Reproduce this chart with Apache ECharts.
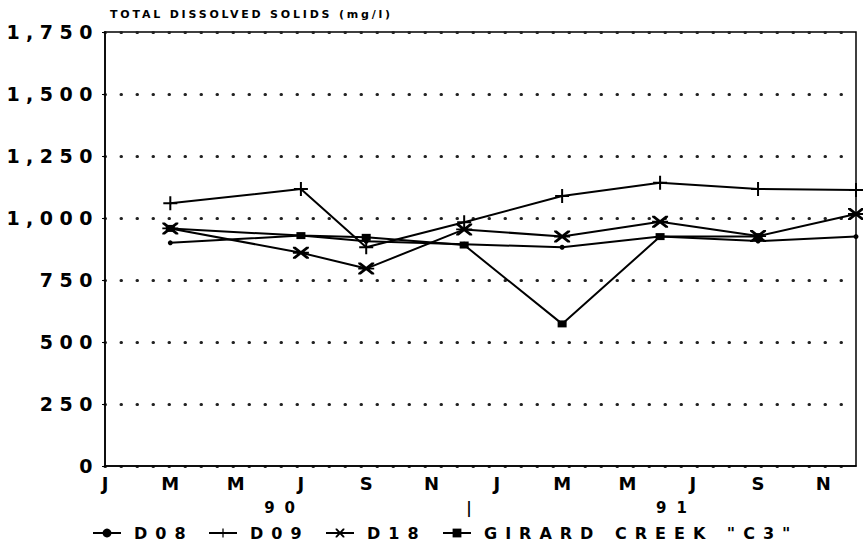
<!DOCTYPE html>
<html>
<head>
<meta charset="utf-8">
<script src="https://cdn.jsdelivr.net/npm/echarts@6/dist/echarts.min.js"></script>
<style>
  html, body { margin: 0; background: #fff; }
  #chart { width: 863px; height: 545px; }
  /* the original lettering is a very wide face, spread the glyphs out */
  #chart text[style*="11px"] { letter-spacing: 2.8px; }
  #chart text[style*="19px"] { letter-spacing: 6.5px; }
  #chart text[style*="16px"] { letter-spacing: 8px; }
  #chart text[style*="15px"] { letter-spacing: 10px; }
</style>
</head>
<body>
<div id="chart"></div>
<script>
    // months counted from Jan 1990 (0) to Dec 1991 (23)
    var monthLetters = ['J', 'M', 'M', 'J', 'S', 'N', 'J', 'M', 'M', 'J', 'S', 'N'];
    var yearLabels = ['90', '|', '91'];
    var yearPositions = [5.5, 11.3, 17.5];
    var sampleMonths = [2, 6, 8, 11, 14, 17, 20, 23];

    var d08 = [900, 929, 906, 894, 882, 925, 907, 925];
    var d09 = [1059, 1117, 882, 983, 1089, 1142, 1117, 1113];
    var d18 = [958, 860, 796, 954, 925, 985, 927, 1016];
    var c3  = [958, 929, 922, 891, 573, 925, 925];

    var plusIcon = 'path://M6,0H8V6H14V8H8V14H6V8H0V6H6Z';
    var starIcon = 'path://M0,0H2.6L16,11.4V13H13.4L0,1.6Z M13.4,0H16V1.6L2.6,13H0V11.4Z M0,5.5H16V7.5H0Z';

    function pairs(values) {
        var out = [];
        for (var i = 0; i < values.length; i++) {
            out.push([sampleMonths[i], values[i]]);
        }
        return out;
    }

    function lineSeries(name, values, symbol, size) {
        return {
            name: name,
            type: 'line',
            data: pairs(values),
            symbol: symbol,
            symbolSize: size,
            clip: false,
            lineStyle: { color: '#000', width: 2 },
            itemStyle: { color: '#000' }
        };
    }

    function legendAt(name, left) {
        return {
            data: [name],
            left: left,
            top: 520,
            itemWidth: 28,
            itemHeight: 11,
            textStyle: { fontSize: 16, fontWeight: 'bold', color: '#000', padding: [0, 0, 0, 8] }
        };
    }

    var chart = echarts.init(document.getElementById('chart'), null, { renderer: 'svg' });

    var option = {
        animation: false,
        backgroundColor: '#fff',
        textStyle: { fontFamily: 'DejaVu Sans', color: '#000' },
        title: {
            text: 'TOTAL DISSOLVED SOLIDS (mg/l)',
            left: 105,
            top: 4,
            textStyle: { fontSize: 11, fontWeight: 'bold', color: '#000' }
        },
        legend: [
            legendAt('D08', 87),
            legendAt('D09', 203),
            legendAt('D18', 320),
            legendAt('GIRARD CREEK "C3"', 437)
        ],
        grid: {
            left: 105,
            right: 7,
            top: 32,
            bottom: 79,
            show: true,
            borderColor: '#000',
            borderWidth: 1.5
        },
        xAxis: [
            {
                type: 'value',
                min: 0,
                max: 23,
                interval: 2,
                axisLine: { lineStyle: { color: '#000', width: 1.5 } },
                axisTick: { show: false },
                splitLine: { show: false },
                axisLabel: {
                    color: '#000',
                    fontSize: 18,
                    fontWeight: 'bold',
                    margin: 8,
                    showMaxLabel: false,
                    formatter: function (v) {
                        return v % 2 === 0 ? monthLetters[v / 2] : '';
                    }
                }
            },
            {
                type: 'value',
                min: 0,
                max: 23,
                position: 'bottom',
                offset: 26,
                axisLine: { show: false },
                axisTick: { show: false },
                splitLine: { show: false },
                axisLabel: {
                    color: '#000',
                    fontSize: 15,
                    fontWeight: 'bold',
                    margin: 8,
                    customValues: yearPositions,
                    formatter: function (v) {
                        return yearLabels[yearPositions.indexOf(v)];
                    }
                }
            }
        ],
        yAxis: {
            type: 'value',
            min: 0,
            max: 1750,
            interval: 250,
            axisLine: { show: true, lineStyle: { color: '#000', width: 1.5 } },
            axisTick: { show: true, length: 3, lineStyle: { color: '#000' } },
            axisLabel: {
                color: '#000',
                fontSize: 19,
                fontWeight: 'bold',
                margin: 6,
                formatter: function (v) {
                    return v.toLocaleString('en-US');
                }
            },
            splitLine: {
                show: true,
                lineStyle: { color: '#222', width: 3, type: [0.5, 15.5], cap: 'round' }
            }
        },
        series: [
            lineSeries('D08', d08, 'circle', 5),
            lineSeries('D09', d09, plusIcon, 14),
            lineSeries('D18', d18, starIcon, [16, 12]),
            lineSeries('GIRARD CREEK "C3"', c3, 'rect', [9, 7])
        ]
    };

    chart.setOption(option);
</script>
</body>
</html>
